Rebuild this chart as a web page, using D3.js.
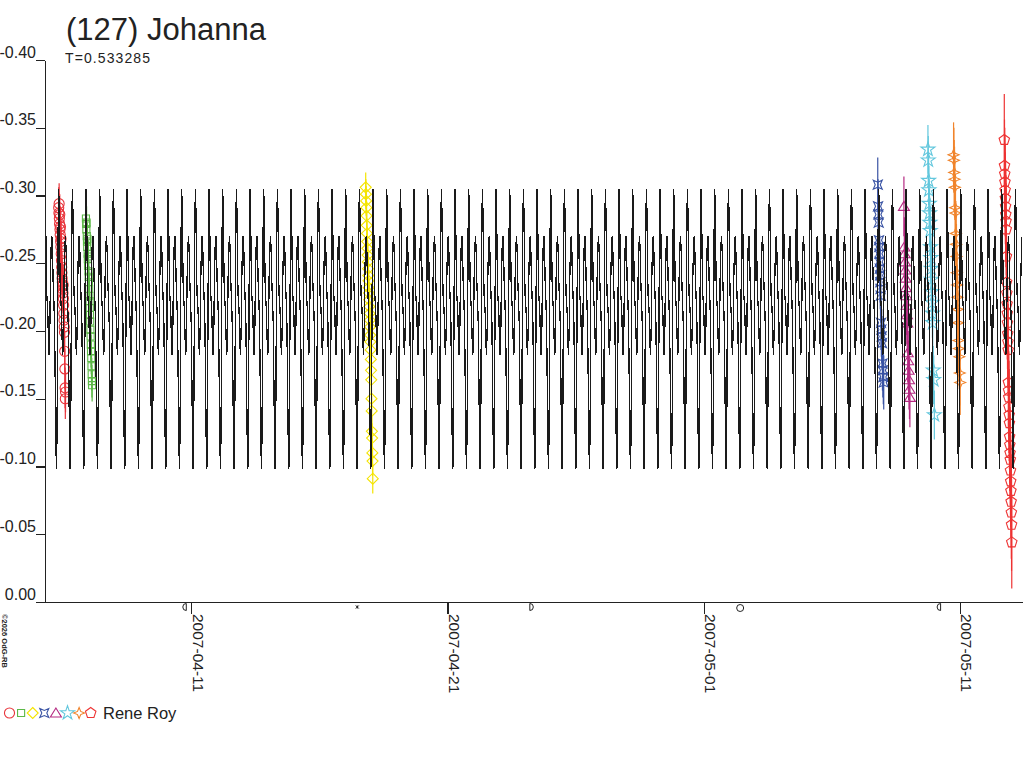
<!DOCTYPE html>
<html>
<head>
<meta charset="utf-8">
<script src="https://cdn.jsdelivr.net/npm/d3@7"></script>
<style>
  html, body { margin: 0; padding: 0; background: #fff; }
  svg { display: block; font-family: "Liberation Sans", Arial, sans-serif; }
</style>
</head>
<body>
<div id="chart"></div>
<script>
// asteroid + rotation period
const titleText = "(127) Johanna";
const periodText = "T=0.533285";
const periodDays = 0.533285;
const observer = "Rene Roy";

// axis ticks
const yTicks = [-0.40, -0.35, -0.30, -0.25, -0.20, -0.15, -0.10, -0.05, 0.00];
const xTicks = ["2007-04-11", "2007-04-21", "2007-05-01", "2007-05-11"];
const xDomain = ["2007-04-05T07:10:00Z", "2007-05-13T10:05:00Z"];

// one rotation of the model light curve: [phase, mag]
const curveShape = [
    [0.00, -0.305], [0.04, -0.290], [0.08, -0.255], [0.12, -0.228],
    [0.16, -0.222], [0.20, -0.215], [0.25, -0.195], [0.30, -0.182],
    [0.35, -0.200], [0.40, -0.240], [0.45, -0.262], [0.50, -0.270],
    [0.55, -0.258], [0.60, -0.235], [0.65, -0.222], [0.70, -0.205],
    [0.75, -0.160], [0.80, -0.115], [0.84, -0.098], [0.88, -0.125],
    [0.92, -0.200], [0.96, -0.275], [1.00, -0.305]
];
const curveEpoch = "2007-04-05T07:10:00Z";

// moon phases shown under the axis
const moonDates = ["2007-04-10T18:04Z", "2007-04-17T11:36Z", "2007-04-24T06:35Z", "2007-05-02T10:09Z", "2007-05-10T04:27Z"];
const moonPhases = ["last", "new", "first", "full", "last"];

// sessions: start of night (UTC), error bar, then [hours after start, mag]
const sessionStarts = ["2007-04-05T20:00Z", "2007-04-06T21:30Z", "2007-04-17T19:30Z", "2007-05-07T19:00Z",
                       "2007-05-08T19:30Z", "2007-05-09T18:00Z", "2007-05-10T18:00Z", "2007-05-12T17:30Z"];
const sessionErrs = [0.015, 0.012, 0.011, 0.020, 0.022, 0.018, 0.024, 0.034];
const sessionColors = ["#e8333a", "#5cb847", "#f4e400", "#3953a4", "#b52a82", "#62c7dd", "#f0842c", "#ee3333"];
const sessionShapes = ["circle", "square", "diamond", "xstar", "triangle", "star", "cross", "pentagon"];

const redCircles = [
    [0.0, -0.291], [0.2, -0.287], [0.4, -0.294], [0.6, -0.283], [0.8, -0.279], [1.0, -0.286],
    [1.2, -0.275], [1.4, -0.271], [1.6, -0.277], [1.8, -0.266], [2.0, -0.262], [2.2, -0.268],
    [2.4, -0.257], [2.6, -0.252], [2.8, -0.247], [3.0, -0.243], [3.2, -0.239], [3.4, -0.236],
    [3.6, -0.233], [3.8, -0.231], [4.0, -0.228], [4.2, -0.234], [4.4, -0.224], [4.6, -0.219],
    [4.8, -0.213], [5.0, -0.208], [5.2, -0.203], [5.4, -0.199], [5.6, -0.185], [5.8, -0.172],
    [6.0, -0.158], [6.2, -0.150], [6.4, -0.155]
];
const greenSquares = [
    [0.0, -0.283], [0.2, -0.279], [0.4, -0.275], [0.6, -0.280], [0.8, -0.270], [1.0, -0.266],
    [1.2, -0.262], [1.4, -0.268], [1.6, -0.257], [1.8, -0.253], [2.0, -0.248], [2.2, -0.255],
    [2.4, -0.244], [2.6, -0.240], [2.8, -0.236], [3.0, -0.231], [3.2, -0.226], [3.4, -0.222],
    [3.6, -0.217], [3.8, -0.212], [4.0, -0.207], [4.2, -0.201], [4.4, -0.196], [4.6, -0.190],
    [4.8, -0.185], [5.0, -0.180], [5.2, -0.174], [5.4, -0.168], [5.6, -0.163], [5.8, -0.160]
];
const yellowDiamonds = [
    [0.0, -0.306], [0.2, -0.301], [0.4, -0.296], [0.6, -0.291], [0.8, -0.285], [1.0, -0.278],
    [1.2, -0.272], [1.4, -0.266], [1.6, -0.261], [1.8, -0.256], [2.0, -0.251], [2.2, -0.246],
    [2.4, -0.241], [2.6, -0.237], [2.8, -0.232], [3.0, -0.228], [3.2, -0.223], [3.4, -0.218],
    [3.6, -0.213], [3.8, -0.208], [4.0, -0.203], [4.2, -0.197], [4.4, -0.192], [4.6, -0.186],
    [4.8, -0.179], [5.0, -0.171], [5.2, -0.164], [5.4, -0.150], [5.6, -0.141], [5.8, -0.126],
    [6.0, -0.121], [6.2, -0.110], [6.4, -0.104], [6.6, -0.091]
];
const blueStars = [
    [0.0, -0.308], [0.3, -0.292], [0.6, -0.286], [0.9, -0.280], [1.2, -0.267], [1.4, -0.262],
    [1.6, -0.257], [1.8, -0.251], [2.0, -0.246], [2.2, -0.241], [2.4, -0.236], [2.6, -0.231],
    [2.8, -0.226], [3.1, -0.206], [3.4, -0.201], [3.7, -0.196], [4.0, -0.191], [4.4, -0.176],
    [4.8, -0.171], [5.2, -0.166], [5.6, -0.162]
];
const magentaTriangles = [
    [0.0, -0.292], [0.4, -0.262], [0.7, -0.257], [1.0, -0.251], [1.3, -0.245], [1.6, -0.239],
    [1.9, -0.232], [2.2, -0.226], [2.5, -0.219], [2.8, -0.212], [3.1, -0.206], [3.6, -0.184],
    [4.0, -0.178], [4.4, -0.171], [4.8, -0.164], [5.2, -0.157], [5.6, -0.151]
];
const cyanStars = [
    [0.0, -0.334], [0.3, -0.326], [0.6, -0.311], [0.9, -0.304], [1.2, -0.294], [1.5, -0.287],
    [1.8, -0.280], [2.1, -0.274], [2.4, -0.262], [2.7, -0.254], [3.0, -0.246], [3.3, -0.238],
    [3.6, -0.229], [3.9, -0.221], [4.2, -0.213], [4.5, -0.206], [5.0, -0.171], [5.4, -0.164],
    [6.0, -0.138]
];
const orangeStars = [
    [0.0, -0.330], [0.3, -0.326], [0.6, -0.317], [0.9, -0.312], [1.2, -0.306], [1.5, -0.291],
    [1.8, -0.287], [2.1, -0.272], [2.4, -0.264], [2.7, -0.255], [3.0, -0.243], [3.3, -0.234],
    [3.6, -0.225], [3.9, -0.216], [4.2, -0.206], [4.6, -0.193], [5.0, -0.187], [5.4, -0.181],
    [5.8, -0.169], [6.2, -0.162]
];
const redPentagons = [
    [0.0, -0.341], [0.2, -0.322], [0.4, -0.316], [0.6, -0.310], [0.8, -0.304], [1.0, -0.298],
    [1.2, -0.292], [1.4, -0.286], [1.6, -0.281], [1.8, -0.275], [2.0, -0.255], [2.2, -0.236],
    [2.4, -0.228], [2.6, -0.220], [2.8, -0.213], [3.0, -0.206], [3.2, -0.198], [3.4, -0.192],
    [3.6, -0.186], [3.8, -0.162], [4.0, -0.156], [4.2, -0.151], [4.4, -0.144], [4.6, -0.138],
    [4.8, -0.132], [5.0, -0.122], [5.2, -0.116], [5.4, -0.110], [5.6, -0.105], [5.8, -0.097],
    [6.0, -0.089], [6.2, -0.082], [6.4, -0.074], [6.6, -0.066], [6.8, -0.057], [7.0, -0.044]
];
const sessionPoints = [redCircles, greenSquares, yellowDiamonds, blueStars,
                       magentaTriangles, cyanStars, orangeStars, redPentagons];

const width = 1024, height = 768;
const HOUR = 3600 * 1000, DAY = 24 * HOUR;

const svg = d3.select('#chart').append('svg')
    .attr('width', width)
    .attr('height', height);

const x = d3.scaleUtc()
    .domain(xDomain.map(d => new Date(d)))
    .range([45, 1022]);
const y = d3.scaleLinear()
    .domain([-0.40, 0])
    .range([60, 602]);

// marker shapes
const polyPath = (pts) => 'M' + pts.map(p => p[0].toFixed(2) + ',' + p[1].toFixed(2)).join('L') + 'Z';
const markerPath = {
    circle: d3.symbol(d3.symbolCircle, 80)(),
    square: d3.symbol(d3.symbolSquare, 50)(),
    diamond: polyPath([[0, -5.5], [5.5, 0], [0, 5.5], [-5.5, 0]]),
    triangle: polyPath([[0, -5], [5.5, 4], [-5.5, 4]]),
    star: d3.symbol(d3.symbolStar, 60)(),
    pentagon: polyPath(d3.range(5).map(k => {
        const a = -Math.PI / 2 + k * 2 * Math.PI / 5;
        return [5.5 * Math.cos(a), 5.5 * Math.sin(a)];
    })),
    xstar: polyPath([[-4.5, -4.5], [0, -2.5], [4.5, -4.5], [2.5, 0], [4.5, 4.5], [0, 2.5], [-4.5, 4.5], [-2.5, 0]]),
    cross: polyPath([[0, -5.5], [1.6, -1.6], [5.5, 0], [1.6, 1.6], [0, 5.5], [-1.6, 1.6], [-5.5, 0], [-1.6, -1.6]])
};

const sessions = sessionStarts.map((s, i) => {
    const t0 = new Date(s).getTime();
    return {
        color: sessionColors[i],
        shape: sessionShapes[i],
        err: sessionErrs[i],
        pts: sessionPoints[i].map(p => ({t: new Date(t0 + p[0] * HOUR), m: p[1]}))
    };
});

// clip to plot area
svg.append('clipPath').attr('id', 'plotClip')
    .append('rect').attr('x', 45).attr('y', 0).attr('width', 977).attr('height', 602);

// observations
const obs = svg.append('g').attr('clip-path', 'url(#plotClip)');
sessions.forEach(s => {
    const g = obs.append('g');
    g.selectAll('line')
        .data(s.pts)
        .enter()
        .append('line')
        .attr('x1', d => x(d.t)).attr('x2', d => x(d.t))
        .attr('y1', d => y(d.m - s.err)).attr('y2', d => y(d.m + s.err))
        .attr('stroke', s.color)
        .attr('stroke-width', 1.2);
    g.selectAll('path')
        .data(s.pts)
        .enter()
        .append('path')
        .attr('d', markerPath[s.shape])
        .attr('transform', d => `translate(${x(d.t)},${y(d.m)})`)
        .attr('fill', 'none')
        .attr('stroke', s.color)
        .attr('stroke-width', 1.1);
});

// model curve, one rotation repeated over the whole time span
const epochMs = new Date(curveEpoch).getTime();
const endMs = x.domain()[1].getTime();
const curvePts = [];
for (let k = -1; epochMs + k * periodDays * DAY <= endMs + periodDays * DAY; k++) {
    curveShape.forEach((p, j) => {
        if (j === 0 && k > -1) return;
        curvePts.push([new Date(epochMs + (k + p[0]) * periodDays * DAY), p[1]]);
    });
}
const line = d3.line()
    .x(d => x(d[0]))
    .y(d => y(d[1]));
svg.append('g').attr('clip-path', 'url(#plotClip)')
    .append('path')
    .datum(curvePts)
    .attr('d', line)
    .attr('fill', 'none')
    .attr('stroke', '#1a1a1a')
    .attr('stroke-width', 1.3)
    .style('shape-rendering', 'crispEdges');

// y axis
const yAxis = svg.append('g')
    .attr('transform', 'translate(45,0)')
    .call(d3.axisLeft(y).tickValues(yTicks).tickFormat(d => d.toFixed(2)).tickSize(9).tickPadding(0).tickSizeOuter(0));
yAxis.selectAll('text')
    .attr('dy', '-0.18em')
    .attr('font-size', 16)
    .attr('fill', '#222');

// x axis
const xAxis = svg.append('g')
    .attr('transform', 'translate(0,602)')
    .call(d3.axisBottom(x).tickValues(xTicks.map(d => new Date(d + 'T00:00:00Z')))
        .tickFormat(d3.utcFormat('%Y-%m-%d')).tickSize(12).tickSizeOuter(0));
xAxis.selectAll('text')
    .attr('x', 0).attr('y', 0).attr('dy', null)
    .attr('text-anchor', 'start')
    .attr('transform', 'translate(1,12) rotate(90)')
    .attr('font-size', 15.5)
    .attr('fill', '#222');
svg.selectAll('.domain, .tick line')
    .attr('stroke', '#222')
    .attr('stroke-width', 1.3)
    .style('shape-rendering', 'crispEdges');

// moon phases
const moonPath = {
    first: 'M-1.5,-3.5A3.5,3.5 0 0 1 -1.5,3.5Z',
    last: 'M1.5,-3.5A3.5,3.5 0 0 0 1.5,3.5Z',
    full: 'M3.5,0A3.5,3.5 0 1 1 -3.5,0A3.5,3.5 0 1 1 3.5,0Z',
    new: 'M-1.5,-1.5L1.5,1.5M1.5,-1.5L-1.5,1.5M0,-1.5L0,1.5'
};
svg.append('g')
    .selectAll('path')
    .data(moonDates.map((d, i) => ({t: new Date(d), p: moonPhases[i]})))
    .enter()
    .append('path')
    .attr('d', d => moonPath[d.p])
    .attr('transform', d => `translate(${x(d.t)},${d.p === 'full' ? 608 : 607})`)
    .attr('fill', 'none')
    .attr('stroke', '#222')
    .attr('stroke-width', 1);

// title
svg.append('text')
    .attr('x', 66).attr('y', 40)
    .attr('font-size', 31)
    .attr('fill', '#222')
    .text(titleText);
svg.append('text')
    .attr('x', 65).attr('y', 63)
    .attr('font-size', 14)
    .attr('textLength', 85)
    .attr('lengthAdjust', 'spacing')
    .attr('fill', '#222')
    .text(periodText);

// copyright, vertical
svg.append('text')
    .attr('transform', 'translate(2,614) rotate(90)')
    .attr('font-size', 7.5)
    .attr('font-weight', 'bold')
    .attr('fill', '#222')
    .text('©2026 OdG-RB');

// legend
const legend = svg.append('g').attr('transform', 'translate(0,713)');
legend.selectAll('path')
    .data(sessions)
    .enter()
    .append('path')
    .attr('d', d => markerPath[d.shape])
    .attr('transform', (d, i) => `translate(${9.5 + i * 11.6},0)`)
    .attr('fill', 'none')
    .attr('stroke', d => d.color)
    .attr('stroke-width', 1.1);
legend.append('text')
    .attr('x', 103).attr('y', 6)
    .attr('font-size', 16.5)
    .attr('fill', '#222')
    .text(observer);
</script>
</body>
</html>
